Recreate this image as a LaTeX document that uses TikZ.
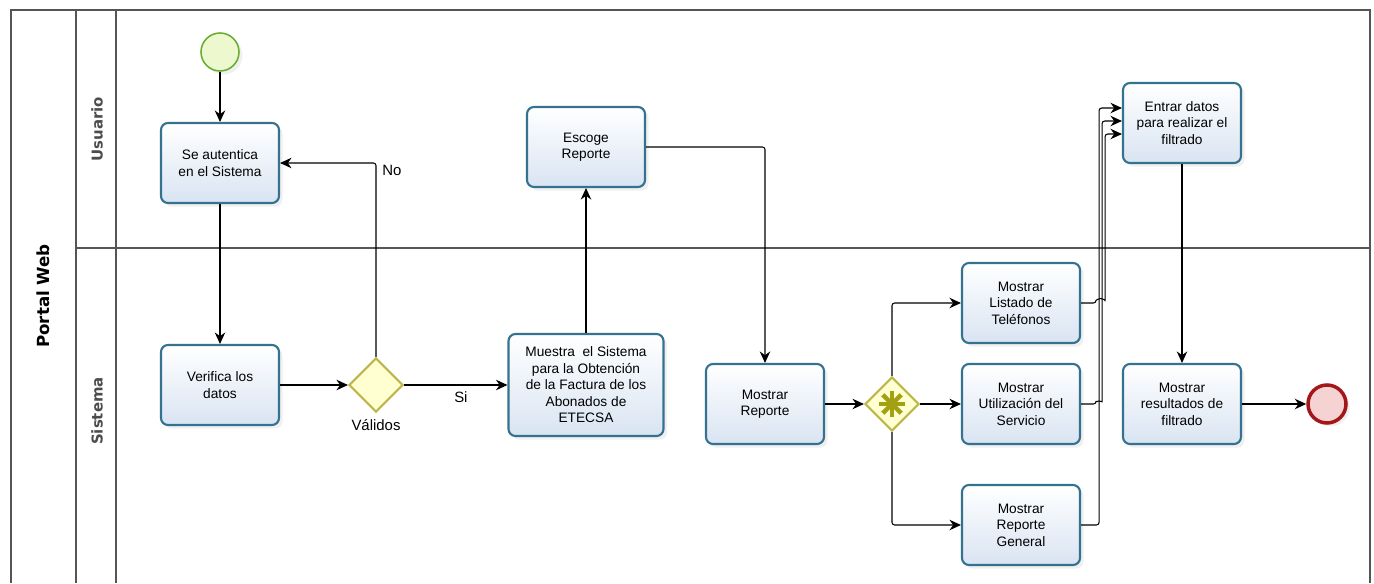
\documentclass[tikz,border=0pt]{standalone}
\usepackage{fontspec}
\setmainfont{Liberation Sans}
\newfontfamily\carrilfont{DejaVu Sans}
\usetikzlibrary{arrows.meta,positioning,calc,shapes.geometric,shadows}
\definecolor{tareaborde}{HTML}{34728F}
\definecolor{tareafondo}{HTML}{D9E4F2}
\definecolor{puertaborde}{HTML}{BDB64A}
\definecolor{puertafondo}{HTML}{FFFFD2}
\definecolor{asterisco}{HTML}{A3A014}
\definecolor{inicioverde}{HTML}{6BAE34}
\definecolor{iniciofondo}{HTML}{EEF8CE}
\definecolor{finrojo}{HTML}{A3171B}
\definecolor{finfondo}{HTML}{F6D3D3}
\definecolor{marcogris}{HTML}{555555}
\tikzset{
  tarea/.style={rectangle, rounded corners=4pt, draw=tareaborde, line width=1.2pt,
                top color=white, bottom color=tareafondo, align=center,
                font=\fontsize{7.8}{9.4}\selectfont, minimum width=2.36cm, minimum height=1.6cm,
                drop shadow={opacity=0.12, shadow xshift=2pt, shadow yshift=-2pt}},
  puerta/.style={diamond, draw=puertaborde, fill=puertafondo, line width=1.2pt,
                 minimum width=1.08cm, minimum height=1.08cm, inner sep=0pt},
  evento/.style={circle, minimum size=0.76cm, inner sep=0pt,
                 drop shadow={opacity=0.12, shadow xshift=2pt, shadow yshift=-2pt}},
  etiq/.style={font=\fontsize{8.5}{10}\selectfont},
  carril/.style={rotate=90, font=\carrilfont\fontsize{8.5}{10}\selectfont\bfseries, text=black!70},
  marco/.style={draw=marcogris, line width=0.6pt},
  flujo/.style={-{Stealth[length=2.3mm,width=2.1mm]}, line width=0.6pt, rounded corners=1.5pt},
  aster/.style={draw=asterisco, line width=2.6pt},
}
\begin{document}
\begin{tikzpicture}[on grid]
  \useasboundingbox (0,0) rectangle (27.48,-11.66);
  \draw[marco] (0.22,-11.66) |- (27.4,-0.2) -- (27.4,-11.66);
  \draw[marco] (1.52,-0.2) -- (1.52,-11.66);
  \draw[marco] (2.32,-0.2) -- (2.32,-11.66);
  \draw[marco] (1.52,-4.96) -- (27.4,-4.96);
  \node[carril, font=\carrilfont\fontsize{9.5}{11}\selectfont\bfseries, text=black] (pool) at (0.86,-5.92) {Portal Web};
  \node[carril] (usu) at (1.94,-2.58) {Usuario};
  \node[carril] (sis) at (1.94,-8.22) {Sistema};

  \node[evento, draw=inicioverde, fill=iniciofondo, line width=0.9pt] (ini) at (4.4,-1.04) {};
  \node[tarea, below=2.22cm of ini] (aut) {Se autentica\\en el Sistema};
  \node[tarea, below=4.44cm of aut] (ver) {Verifica los\\datos};
  \node[puerta, right=3.12cm of ver] (val) {};
  \node[etiq, below=0.8cm of val] (lval) {Válidos};
  \node[tarea, right=4.2cm of val, minimum width=3.1cm, minimum height=2.04cm] (mue)
    {Muestra \ el Sistema\\para la Obtención\\de la Factura de los\\Abonados de\\ETECSA};
  \node[tarea, above=4.76cm of mue] (esc) {Escoge\\Reporte};
  \node[tarea, below right=0.38cm and 3.58cm of mue] (mrep) {Mostrar\\Reporte};
  \node[puerta, right=2.54cm of mrep] (par) {};
  \node[tarea, right=2.58cm of par] (uti) {Mostrar\\Utilización del\\Servicio};
  \node[tarea, above=2.02cm of uti] (lis) {Mostrar\\Listado de\\Teléfonos};
  \node[tarea, below=2.42cm of uti] (gen) {Mostrar\\Reporte\\General};
  \node[tarea, right=3.22cm of uti] (res) {Mostrar\\resultados de\\filtrado};
  \node[tarea, above=5.62cm of res] (ent) {Entrar datos\\para realizar el\\filtrado};
  \node[evento, right=2.9cm of res, draw=finrojo, fill=finfondo, line width=2pt] (fin) {};
  \foreach \ang in {0,45,90,135}
    \draw[aster] ($(par.center)+(\ang:0.26)$) -- ($(par.center)+(\ang+180:0.26)$);

  \draw[flujo] (ini) -- (aut); \draw[flujo] (aut) -- (ver); \draw[flujo] (ver) -- (val);
  \draw[flujo] (val) -- node[etiq, below, pos=0.55] (lsi) {Si} (mue);
  \draw[flujo] (val.north) |- node[etiq, pos=0.5, anchor=west, yshift=-0.14cm] (lno) {No} (aut.east);
  \draw[flujo] (mue) -- (esc);
  \draw[flujo] (esc.east) -| (mrep.north);
  \draw[flujo] (mrep) -- (par);
  \draw[flujo] (par.north) |- (lis.west);
  \draw[flujo] (par) -- (uti);
  \draw[flujo] (par.south) |- (gen.west);
  \draw[flujo] (ent) -- (res); \draw[flujo] (res) -- (fin);
  \draw[flujo] (gen.east) -- ++(0.36,0) |- ([yshift=0.3cm]ent.west);
  \draw[flujo] (uti.east) -- ++(0.3,0) arc[start angle=180, end angle=0, radius=0.06] |- ([yshift=0.04cm]ent.west);
  \draw[flujo] (lis.east) -- ++(0.3,0) arc[start angle=180, end angle=0, radius=0.09] |- ([yshift=-0.22cm]ent.west);
\end{tikzpicture}
\end{document}
